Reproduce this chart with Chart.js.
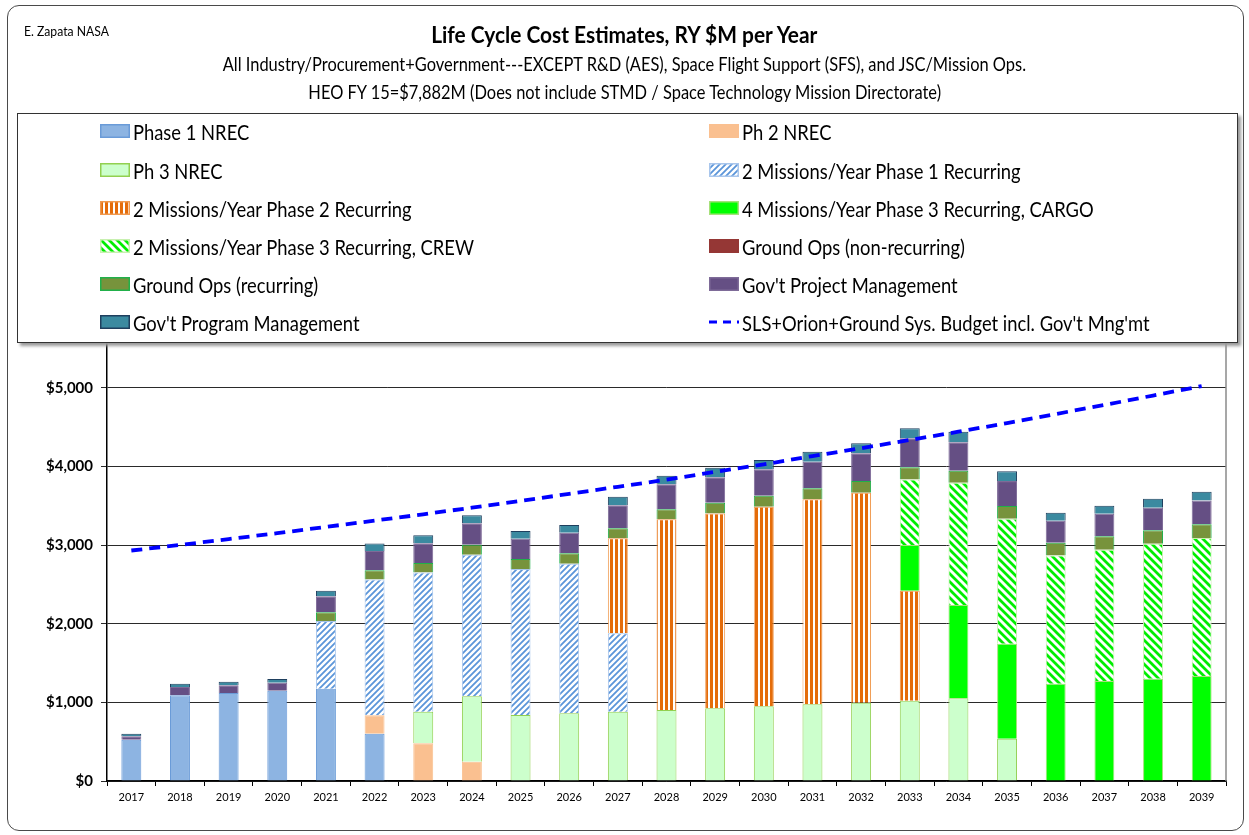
<!DOCTYPE html>
<html>
<head>
<meta charset="utf-8">
<script src="https://cdn.jsdelivr.net/npm/chart.js@4.4.1/dist/chart.umd.min.js"></script>
<style>
  body { margin: 0; background: #fff; font-family: Lato, sans-serif; }
  #wrap { position: relative; width: 1249px; height: 835px; overflow: hidden; }
  #frame { position: absolute; left: 7px; top: 5px; width: 1235px; height: 824px;
           border: 1.5px solid #4a4a4a; border-radius: 12px; }
  #chart { position: absolute; left: 0; top: 0; }
  .txt { position: absolute; white-space: nowrap; color: #000; }
  .ctr { left: 0; width: 1249px; text-align: center; }
  .sq { display: inline-block; transform-origin: center; }
  .sl { display: inline-block; transform-origin: left; }
  #legend { position: absolute; left: 17px; top: 113px; width: 1219px; height: 228px;
            border: 1px solid #333; background: #fff; box-shadow: 3px 3px 3px #9a9a9a; }
  .item { position: absolute; height: 26px; display: flex; align-items: center; }
  .item canvas { margin-right: 3px; }
  .item span { font-size: 21px; display: inline-block; transform: scaleX(0.875); transform-origin: left; }
</style>
</head>
<body>
<div id="wrap">
  <div id="frame"></div>
  <canvas id="chart" width="1249" height="835"></canvas>
  <div class="txt" style="left:24px;top:22px;font-size:14px;line-height:18px"><span class="sl" style="transform:scaleX(0.87)">E. Zapata NASA</span></div>
  <div class="txt ctr" style="top:21px;font-size:22px;line-height:28px;font-weight:bold"><span class="sq" style="transform:scaleX(0.95)">Life Cycle Cost Estimates, RY $M per Year</span></div>
  <div class="txt ctr" style="top:52px;font-size:19px;line-height:24px"><span class="sq" style="transform:scaleX(0.865)">All Industry/Procurement+Government---EXCEPT R&amp;D (AES), Space Flight Support (SFS), and JSC/Mission Ops.</span></div>
  <div class="txt ctr" style="top:80px;font-size:19px;line-height:24px"><span class="sq" style="transform:scaleX(0.865)">HEO FY 15=$7,882M (Does not include STMD / Space Technology Mission Directorate)</span></div>
  <div id="legend"></div>
</div>
<script>
// --- Data (RY $M) ---
const years = ['2017','2018','2019','2020','2021','2022','2023','2024','2025','2026','2027','2028',
               '2029','2030','2031','2032','2033','2034','2035','2036','2037','2038','2039'];

const phase1Nrec   = [525,1089,1119,1148,1174,602,0,0,0,0,0,0,0,0,0,0,0,0,0,0,0,0,0];
const ph2Nrec      = [0,0,0,0,0,233,479,246,0,0,0,0,0,0,0,0,0,0,0,0,0,0,0];
const ph3Nrec      = [0,0,0,0,0,0,402,830,839,860,881,902,924,949,975,996,1021,1051,538,0,0,0,0];
const p1Recurring  = [0,0,0,0,860,1725,1771,1801,1856,1903,996,0,0,0,0,0,0,0,0,0,0,0,0];
const p2Recurring  = [0,0,0,0,0,0,0,0,0,0,1208,2424,2478,2538,2605,2669,1398,0,0,0,0,0,0];
const p3Cargo      = [0,0,0,0,0,0,0,0,0,0,0,0,0,0,0,0,581,1186,1208,1237,1271,1301,1335];
const p3Crew       = [0,0,0,0,0,0,0,0,0,0,0,0,0,0,0,0,834,1555,1589,1631,1669,1716,1754];
const groundNonRec = [0,0,0,0,0,0,0,0,0,0,0,0,0,0,0,0,0,0,0,0,0,0,0];
const groundRec    = [0,0,0,0,110,119,119,127,127,131,127,127,136,140,140,148,153,153,161,161,170,169,174];
const projectMgmt  = [45,106,97,102,203,246,250,271,258,263,292,318,322,335,339,352,369,360,317,280,288,288,304];
const programMgmt  = [30,42,47,47,72,93,102,102,98,97,110,110,123,118,127,127,127,135,123,102,102,115,111];
const budgetLine   = [2930,3000,3075,3150,3230,3310,3390,3475,3560,3650,3740,3830,3930,4025,4130,4230,
                      4335,4440,4550,4665,4780,4900,5020];

// --- Fill patterns ---
function makeFill(ctx, kind, color) {
  if (!kind) return color;
  const c = document.createElement('canvas');
  const g = c.getContext('2d');
  if (kind === 'vert') {
    c.width = 5; c.height = 4;
    g.fillStyle = '#fff'; g.fillRect(0, 0, 5, 4);
    g.fillStyle = color; g.fillRect(0, 0, 3, 4);
  } else {
    const n = kind === 'up' ? 6 : 8;
    c.width = n; c.height = n;
    g.fillStyle = '#fff'; g.fillRect(0, 0, n, n);
    g.strokeStyle = color; g.lineWidth = kind === 'up' ? 1.8 : 2.8;
    g.beginPath();
    if (kind === 'up') {
      g.moveTo(-1, n + 1); g.lineTo(n + 1, -1);
      g.moveTo(-1, 1); g.lineTo(1, -1);
      g.moveTo(n - 1, n + 1); g.lineTo(n + 1, n - 1);
    } else {
      g.moveTo(-1, -1); g.lineTo(n + 1, n + 1);
      g.moveTo(-1, n - 1); g.lineTo(1, n + 1);
      g.moveTo(n - 1, -1); g.lineTo(n + 1, 1);
    }
    g.stroke();
  }
  return ctx.createPattern(c, 'repeat');
}

const series = [
  { label: 'Phase 1 NREC', data: phase1Nrec, color: '#8db4e2', border: '#6a9bd8' },
  { label: 'Ph 2 NREC', data: ph2Nrec, color: '#fac090', border: '#fac090' },
  { label: 'Ph 3 NREC', data: ph3Nrec, color: '#ccffcc', border: '#92d050' },
  { label: '2 Missions/Year Phase 1 Recurring', data: p1Recurring, color: '#5b95d9', border: '#a9c6ec', kind: 'up' },
  { label: '2 Missions/Year Phase 2 Recurring', data: p2Recurring, color: '#e46c0a', border: '#f09a50', kind: 'vert' },
  { label: '4 Missions/Year Phase 3 Recurring, CARGO', data: p3Cargo, color: '#00ff00', border: '#a6e07a' },
  { label: '2 Missions/Year Phase 3 Recurring, CREW', data: p3Crew, color: '#00ee00', border: '#c8f0b0', kind: 'down' },
  { label: 'Ground Ops (non-recurring)', data: groundNonRec, color: '#953735', border: '#953735' },
  { label: 'Ground Ops (recurring)', data: groundRec, color: '#77933c', border: '#21b04a' },
  { label: "Gov't Project Management", data: projectMgmt, color: '#654f84', border: '#7e6b98' },
  { label: "Gov't Program Management", data: programMgmt, color: '#3b8aa0', border: '#1f3f5e' }
];

const canvas = document.getElementById('chart');
const ctx = canvas.getContext('2d');

const datasets = series.map(s => ({
  type: 'bar',
  label: s.label,
  data: s.data.map(v => v || null),
  backgroundColor: makeFill(ctx, s.kind, s.color),
  borderColor: s.border,
  borderWidth: 1,
  barPercentage: 0.41,
  categoryPercentage: 1,
  stack: 'cost',
  order: 1
}));
datasets.push({
  type: 'line',
  label: "SLS+Orion+Ground Sys. Budget incl. Gov't Mng'mt",
  data: budgetLine,
  borderColor: '#0000ff',
  borderWidth: 3.8,
  borderDash: [11, 7],
  pointRadius: 0,
  fill: false,
  tension: 0,
  stack: 'budget',
  order: 0
});

const plotBorder = {
  id: 'plotBorder',
  afterDraw(chart) {
    const a = chart.chartArea, c = chart.ctx;
    c.save();
    c.strokeStyle = '#8a8a8a'; c.lineWidth = 1.5;
    c.beginPath(); c.moveTo(a.right, a.top); c.lineTo(a.right, a.bottom); c.stroke();
    c.restore();
  }
};

Chart.defaults.font.family = 'Lato, sans-serif';
const chart = new Chart(ctx, {
  data: { labels: years, datasets },
  options: {
    responsive: false,
    animation: false,
    layout: { padding: { top: 309, left: 0, right: 23, bottom: 24 } },
    plugins: { legend: { display: false }, title: { display: false }, tooltip: { enabled: false } },
    scales: {
      x: {
        stacked: true,
        grid: { drawOnChartArea: false, tickLength: 5, color: '#000' },
        border: { color: '#000', width: 1.5 },
        ticks: { color: '#000', font: { size: 11 }, padding: 5, maxRotation: 0 },
        afterFit(s) { s.height = 30; }
      },
      y: {
        stacked: true,
        min: 0, max: 6000,
        grid: { color: '#2a2a2a', lineWidth: 1, tickLength: 6 },
        border: { color: '#000', width: 1.5 },
        ticks: { stepSize: 1000, color: '#000', padding: 8, font: { size: 15, weight: 'bold' },
                 callback: v => '$' + v.toLocaleString('en-US') },
        afterFit(s) { s.width = 107; }
      }
    }
  },
  plugins: [plotBorder]
});

// --- HTML legend laid over the top of the plot, two columns ---
const legend = document.getElementById('legend');
const rowTop = [4, 43, 81, 119, 157, 195];
chart.data.datasets.forEach((ds, i) => {
  const item = document.createElement('div');
  item.className = 'item';
  item.style.left = (i % 2 ? 691 : 82) + 'px';
  item.style.top = rowTop[Math.floor(i / 2)] + 'px';
  const sw = document.createElement('canvas');
  sw.width = 30; sw.height = 14;
  const g = sw.getContext('2d');
  if (ds.type === 'line') {
    g.strokeStyle = ds.borderColor; g.lineWidth = 3; g.setLineDash([8, 6]);
    g.beginPath(); g.moveTo(0, 7); g.lineTo(30, 7); g.stroke();
  } else {
    const s = series[i];
    g.fillStyle = makeFill(g, s.kind, s.color);
    g.fillRect(0, 0, 30, 14);
    g.strokeStyle = s.border; g.lineWidth = 1.5;
    g.strokeRect(0.75, 0.75, 28.5, 12.5);
  }
  const t = document.createElement('span');
  t.textContent = ds.label;
  item.appendChild(sw);
  item.appendChild(t);
  legend.appendChild(item);
});
</script>
</body>
</html>
